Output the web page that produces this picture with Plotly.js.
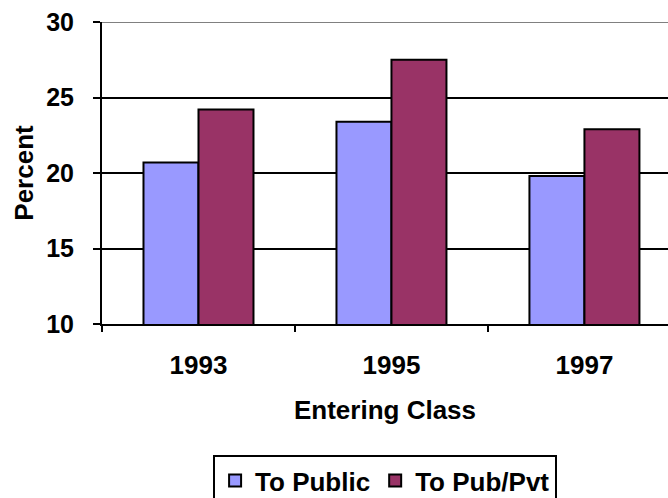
<!DOCTYPE html>
<html>
<head>
<meta charset="utf-8">
<script src="https://cdn.plot.ly/plotly-3.0.1.min.js"></script>
<style>html,body{margin:0;padding:0;background:#fff;}#chart{width:668px;height:498px;}</style>
</head>
<body>
<div id="chart"></div>
<script>
const categories = ["1993", "1995", "1997"];
const toPublic = [20.7, 23.4, 19.8];
const toPubPvt = [24.2, 27.5, 22.9];
const seriesNames = ["To Public", "To Pub/Pvt"];
const yTicks = [10, 15, 20, 25, 30];

const fam = "Liberation Sans, Arial, sans-serif";

const traces = [
  {type: "bar", name: seriesNames[0], x: categories, y: toPublic,
   marker: {color: "#9999FF", line: {color: "#000", width: 2}}},
  {type: "bar", name: seriesNames[1], x: categories, y: toPubPvt,
   marker: {color: "#993366", line: {color: "#000", width: 2}}}
];

const layout = {
  width: 668, height: 498,
  margin: {l: 102, r: 0, t: 22, b: 174, pad: 0},
  paper_bgcolor: "#fff", plot_bgcolor: "#fff",
  font: {family: fam, size: 26, color: "#000"},
  barmode: "group",
  bargap: 0.43, bargroupgap: 0,
  showlegend: true,
  xaxis: {
    type: "category",
    range: [-0.5, 2.433],
    automargin: false,
    tickson: "boundaries",
    ticks: "outside", ticklen: 6, tickwidth: 2, tickcolor: "#000",
    showline: true, linecolor: "#000", linewidth: 2,
    showgrid: false, zeroline: false,
    tickfont: {family: fam, size: 26, color: "#000", weight: "bold"},
    ticklabelstandoff: 17,
    title: {text: "<b>Entering Class</b>", font: {family: fam, size: 26, color: "#000"}, standoff: 22},
    fixedrange: true
  },
  yaxis: {
    range: [10, 30],
    automargin: false,
    tickvals: yTicks,
    ticks: "outside", ticklen: 7, tickwidth: 2, tickcolor: "#000",
    showline: true, linecolor: "#000", linewidth: 2,
    showgrid: true, gridcolor: "#000", gridwidth: 2,
    zeroline: false,
    tickfont: {family: fam, size: 25, color: "#000", weight: "bold"},
    ticklabelstandoff: 14,
    title: {text: "<b>Percent</b>", font: {family: fam, size: 26, color: "#000"}, standoff: 5},
    fixedrange: true
  },
  shapes: [
    {type: "line", xref: "paper", yref: "y", x0: 0, x1: 1, y0: 30, y1: 30,
     line: {color: "#808080", width: 2}, layer: "above"}
  ],
  legend: {
    orientation: "h",
    xref: "container", yref: "container",
    x: 0.319, xanchor: "left",
    y: 0.0863, yanchor: "top",
    bordercolor: "#000", borderwidth: 2, bgcolor: "#fff",
    font: {family: fam, size: 26, color: "#000", weight: "bold"},
    itemwidth: 30,
    tracegroupgap: 0
  }
};

Plotly.newPlot("chart", traces, layout, {displayModeBar: false, staticPlot: true});
</script>
</body>
</html>
